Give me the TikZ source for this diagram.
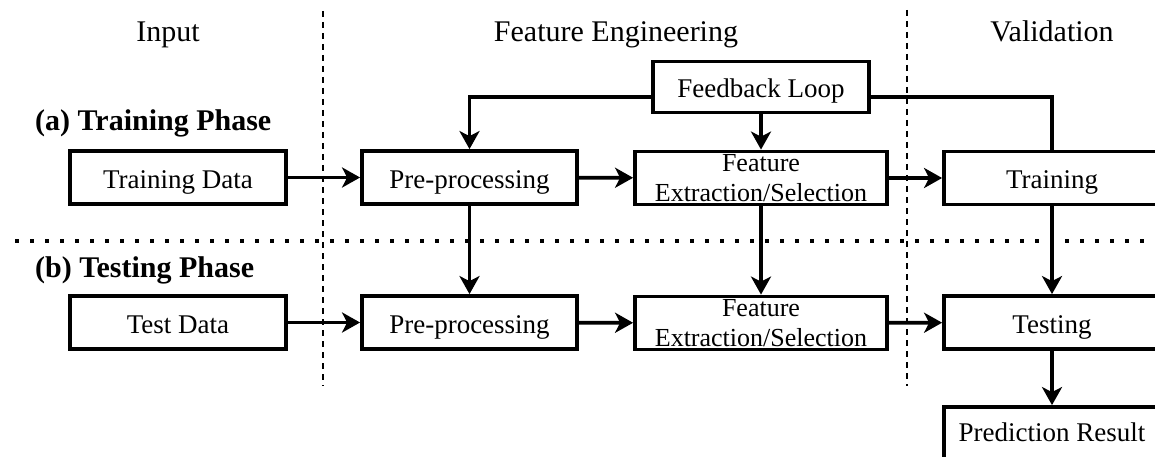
\documentclass[tikz,border=0pt]{standalone}
\usepackage{fontspec}
\setmainfont{Liberation Serif}
\usetikzlibrary{arrows.meta}
\newcommand{\boxfont}{\fontsize{27}{30}\selectfont}
\newcommand{\featfont}{\fontsize{26}{30}\selectfont}
\newcommand{\headfont}{\fontsize{30}{33}\selectfont}
\tikzset{
  base/.style={draw=black, line width=3.8pt, fill=white, inner sep=0pt, minimum height=53pt},
  stage/.style={base, minimum width=216pt, font=\boxfont, text height=21pt, text depth=0pt},
  featbox/.style={base, minimum width=252pt, align=center, font=\featfont},
  flow/.style={line width=3.8pt, -{Stealth[length=18pt,width=20pt,inset=5pt]}},
  wire/.style={line width=3.8pt},
  colsep/.style={line width=1.6pt, dash pattern=on 6pt off 5pt},
  rowsep/.style={line width=4pt, dash pattern=on 4pt off 11pt},
  header/.style={anchor=base, font=\headfont, inner sep=0pt},
  phase/.style={anchor=base west, font=\headfont\bfseries, inner sep=0pt}
}
\begin{document}
\begin{tikzpicture}[x=1pt,y=-1pt]
\useasboundingbox (0,0) rectangle (1155,457);

% column and phase separators
\draw[colsep] (323,11) -- (323,386);
\draw[colsep] (907,10) -- (907,386);
\draw[rowsep] (15,241) -- (1155,241);

% column headers
\node[header] (hin)  at (168,42)  {Input};
\node[header] (hfe)  at (616,42)  {Feature Engineering};
\node[header] (hval) at (1052,42) {Validation};

% phase labels
\node[phase] (pa) at (35,131) {(a) Training Phase};
\node[phase] (pb) at (35,277) {(b) Testing Phase};

% training phase
\node[stage] (fb) at (761,87) [minimum height=51pt] {Feedback Loop};
\node[stage] (td1) at (178,177.5) {Training Data};
\node[stage, minimum width=215pt] (pp1) at (469.5,177.5) {Pre-processing};
\node[featbox] (fe1) at (761,178) {Feature\\Extraction/Selection};
\node[stage] (train) at (1052,178) {Training};

% testing phase
\node[stage] (td2) at (178,322.5) {Test Data};
\node[stage, minimum width=215pt] (pp2) at (469.5,322.5) {Pre-processing};
\node[featbox] (fe2) at (761,323) {Feature\\Extraction/Selection};
\node[stage] (test) at (1052,322.5) {Testing};
\node[stage, minimum height=60pt, text depth=13pt] (pred) at (1052,437) {Prediction Result};

% horizontal flow
\draw[flow] (td1) -- (pp1);
\draw[flow] (pp1) -- (fe1);
\draw[flow] (fe1) -- (train);
\draw[flow] (td2) -- (pp2);
\draw[flow] (pp2) -- (fe2);
\draw[flow] (fe2) -- (test);

% training to testing
\draw[flow] (pp1) -- (pp2);
\draw[flow] (fe1) -- (fe2);
\draw[flow] (train) -- (test);
\draw[flow] (test) -- (pred);

% feedback loop
\draw[wire] (train.north) |- ([yshift=-10pt]fb.east);
\draw[flow] ([yshift=-10pt]fb.west) -| (pp1.north);
\draw[flow] (fb) -- (fe1);
\end{tikzpicture}
\end{document}
